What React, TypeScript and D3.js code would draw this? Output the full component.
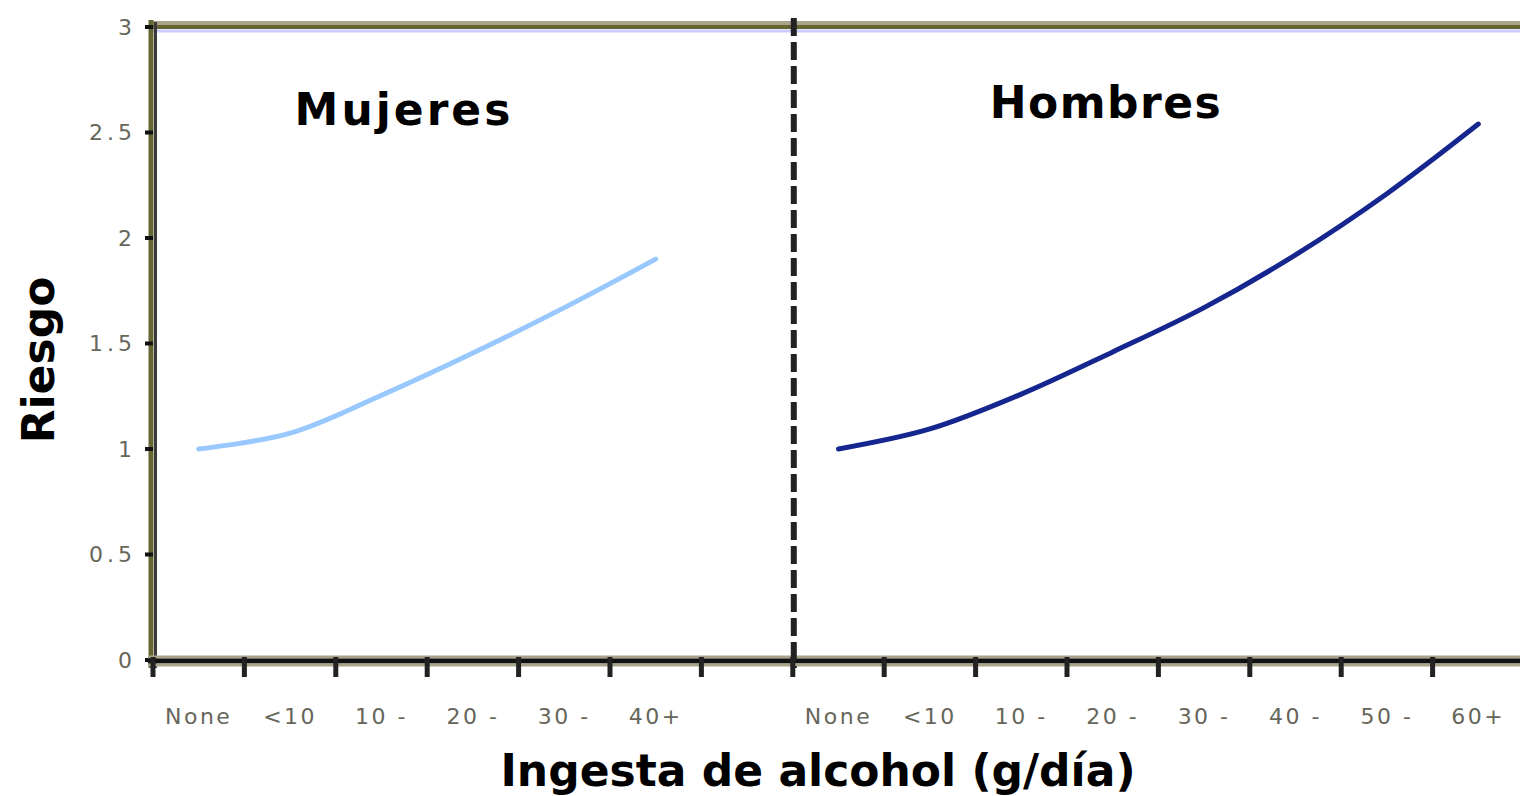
import React, { useEffect, useRef } from 'react';
import * as d3 from 'd3';

// categories per panel (the left panel has one empty slot before the divider)
const womenCats = ['None', '<10', '10 -', '20 -', '30 -', '40+'];
const menCats = ['None', '<10', '10 -', '20 -', '30 -', '40 -', '50 -', '60+'];
const womenRisk = [1.0, 1.075, 1.255, 1.455, 1.67, 1.9];
const menRisk = [1.0, 1.095, 1.26, 1.46, 1.67, 1.92, 2.21, 2.54];
const yTicks = [0, 0.5, 1, 1.5, 2, 2.5, 3];

const W = 1520;
const H = 796;

const App = () => {
  const ref = useRef<SVGSVGElement | null>(null);

  useEffect(() => {
    const svg = d3.select(ref.current);
    svg.selectAll('*').remove();

    const slots = [
      ...womenCats.map((c, i) => 'W' + i),
      'gap',
      ...menCats.map((c, i) => 'M' + i),
    ];
    const x = d3.scaleBand<string>().domain(slots).range([153, 1524]).padding(0);
    const y = d3.scaleLinear().domain([0, 3]).range([660, 27]);
    const bw = x.bandwidth();
    const divX = x('M0') as number;

    // top border
    svg.append('line').attr('x1', 153).attr('x2', W).attr('y1', 23).attr('y2', 23)
      .attr('stroke', '#aaa38c').attr('stroke-width', 4);
    svg.append('line').attr('x1', 153).attr('x2', W).attr('y1', 27).attr('y2', 27)
      .attr('stroke', '#666633').attr('stroke-width', 4);
    svg.append('line').attr('x1', 153).attr('x2', W).attr('y1', 31).attr('y2', 31)
      .attr('stroke', '#ccccff').attr('stroke-width', 3);

    // y axis
    svg.append('line').attr('x1', 151).attr('x2', 151).attr('y1', 20).attr('y2', 668)
      .attr('stroke', '#666633').attr('stroke-width', 5);
    svg.append('line').attr('x1', 155.5).attr('x2', 155.5).attr('y1', 22).attr('y2', 668)
      .attr('stroke', '#3a3a3a').attr('stroke-width', 3);
    svg.selectAll('.yt').data(yTicks).enter().append('line')
      .attr('x1', 145).attr('x2', 153)
      .attr('y1', (d) => y(d)).attr('y2', (d) => y(d))
      .attr('stroke', '#111').attr('stroke-width', 4);
    svg.selectAll('.yl').data(yTicks).enter().append('text')
      .attr('x', 136).attr('y', (d) => y(d))
      .attr('dy', '0.36em')
      .attr('text-anchor', 'end')
      .attr('font-family', 'DejaVu Sans')
      .attr('font-size', 22)
      .attr('letter-spacing', 4)
      .attr('fill', '#66665a')
      .text((d) => String(d));

    // x axis
    svg.append('line').attr('x1', 148).attr('x2', W).attr('y1', 657).attr('y2', 657)
      .attr('stroke', '#aaa38c').attr('stroke-width', 3);
    svg.append('line').attr('x1', 148).attr('x2', W).attr('y1', 661).attr('y2', 661)
      .attr('stroke', '#111').attr('stroke-width', 5);
    svg.append('line').attr('x1', 148).attr('x2', W).attr('y1', 665).attr('y2', 665)
      .attr('stroke', '#aaa38c').attr('stroke-width', 3);
    const tickX = slots.map((s) => x(s) as number);
    svg.selectAll('.xt').data(tickX).enter().append('line')
      .attr('x1', (d) => d).attr('x2', (d) => d)
      .attr('y1', 657).attr('y2', 677)
      .attr('stroke', '#222').attr('stroke-width', 5);

    const labelData = [
      ...womenCats.map((c, i) => ({ k: 'W' + i, t: c })),
      ...menCats.map((c, i) => ({ k: 'M' + i, t: c })),
    ];
    svg.selectAll('.xl').data(labelData).enter().append('text')
      .attr('x', (d) => (x(d.k) as number) + bw / 2)
      .attr('y', 716)
      .attr('dy', '0.36em')
      .attr('text-anchor', 'middle')
      .attr('font-family', 'DejaVu Sans')
      .attr('font-size', 22)
      .attr('letter-spacing', 2.5)
      .attr('fill', '#66665a')
      .text((d) => d.t);

    // divider
    svg.append('line').attr('x1', divX + 1).attr('x2', divX + 1).attr('y1', 18).attr('y2', 668)
      .attr('stroke', '#222').attr('stroke-width', 6)
      .attr('stroke-dasharray', '18 6');

    // curves
    const line = d3.line().curve(d3.curveCatmullRom.alpha(0.5));
    const wPts = womenRisk.map((v, i) => [(x('W' + i) as number) + bw / 2, y(v)] as [number, number]);
    const mPts = menRisk.map((v, i) => [(x('M' + i) as number) + bw / 2, y(v)] as [number, number]);
    svg.append('path')
      .attr('d', line(wPts))
      .attr('fill', 'none').attr('stroke', '#99c8ff').attr('stroke-width', 5)
      .attr('stroke-linecap', 'round');
    svg.append('path')
      .attr('d', line(mPts))
      .attr('fill', 'none').attr('stroke', '#15268f').attr('stroke-width', 5)
      .attr('stroke-linecap', 'round');

    // titles
    const bold = (t: string, tx: number, ty: number, size: number, ls: number) =>
      svg.append('text').attr('x', tx).attr('y', ty)
        .attr('text-anchor', 'middle')
        .attr('font-family', 'DejaVu Sans').attr('font-weight', 'bold')
        .attr('font-size', size).attr('letter-spacing', ls)
        .attr('fill', '#000').text(t);

    bold('Mujeres', 404, 125, 44, 3);
    bold('Hombres', 1106, 118, 44, 1.5);
    bold('Ingesta de alcohol (g/día)', 818, 786, 44, 0);
    bold('Riesgo', 0, 0, 44, 0)
      .attr('transform', 'translate(54,360) rotate(-90)');
  }, []);

  return (
    <svg
      ref={ref}
      width={W}
      height={H}
      style={{ position: 'absolute', left: 0, top: 0, background: '#fff' }}
    />
  );
};

export default App;
